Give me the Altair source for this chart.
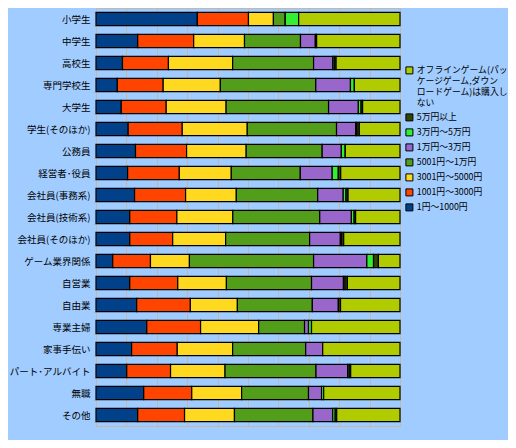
import altair as alt
import pandas as pd

categories = ["小学生", "中学生", "高校生", "専門学校生", "大学生", "学生(そのほか)",
              "公務員", "経営者･役員", "会社員(事務系)", "会社員(技術系)", "会社員(そのほか)",
              "ゲーム業界関係", "自営業", "自由業", "専業主婦", "家事手伝い",
              "パート･アルバイト", "無職", "その他"]

series = ["1円～1000円", "1001円～3000円", "3001円～5000円", "5001円～1万円",
          "1万円～3万円", "3万円～5万円", "5万円以上",
          "オフラインゲーム(パッケージゲーム,ダウンロードゲーム)は購入しない"]

colors = ["#00418A", "#FF4400", "#FFD820", "#529E1A", "#9966CC", "#33EE33", "#334400", "#B0CC00"]

v_1_1000 =    [33.3, 13.7, 8.7, 7.0, 8.3, 10.6, 13.0, 10.4, 12.7, 11.1, 11.1, 5.5, 11.1, 13.4, 16.7, 11.7, 10.1, 15.7, 13.7]
v_1001_3000 = [16.8, 18.4, 15.1, 15.1, 14.8, 17.8, 16.8, 17.0, 16.8, 15.5, 14.1, 12.4, 15.8, 17.7, 17.7, 15.0, 14.4, 15.8, 15.4]
v_3001_5000 = [8.2, 16.7, 21.1, 18.8, 19.7, 21.4, 19.6, 17.1, 16.7, 18.4, 17.4, 12.8, 16.0, 15.5, 19.1, 18.2, 17.9, 16.4, 16.4]
v_5001_1man = [3.9, 18.4, 26.6, 31.4, 33.7, 29.4, 25.0, 22.7, 26.8, 28.6, 27.6, 40.8, 28.0, 24.7, 15.1, 24.0, 29.9, 22.0, 25.8]
v_1_3man =    [0.0, 4.9, 6.3, 11.4, 9.8, 6.3, 6.3, 10.5, 8.4, 10.4, 10.1, 17.5, 10.5, 8.6, 1.3, 5.6, 10.4, 4.3, 6.5]
v_3_5man =    [4.4, 0.0, 0.5, 1.3, 0.9, 0.4, 1.3, 2.0, 0.9, 0.9, 0.4, 2.2, 0.5, 0.0, 1.0, 0.0, 0.5, 0.7, 0.8]
v_5man_up =   [0.0, 0.4, 0.6, 0.0, 0.5, 0.8, 0.0, 0.8, 0.7, 0.5, 0.7, 1.6, 0.8, 0.7, 0.0, 0.0, 0.5, 0.0, 0.5]
v_offline =   [33.3, 27.4, 21.0, 15.0, 12.3, 13.4, 18.0, 19.5, 17.1, 14.6, 18.5, 7.1, 17.3, 19.6, 29.1, 25.4, 16.2, 25.1, 20.8]

all_values = [v_1_1000, v_1001_3000, v_3001_5000, v_5001_1man, v_1_3man, v_3_5man, v_5man_up, v_offline]

rows = []
for si, (s, vals) in enumerate(zip(series, all_values)):
    for c, v in zip(categories, vals):
        rows.append({"category": c, "series": s, "value": v, "order": si})
df = pd.DataFrame(rows)

offline_lines = ["オフラインゲーム(パッ", "ケージゲーム,ダウン", "ロードゲーム)は購入し", "ない"]
label_expr = ("datum.label == '" + series[-1] + "' ? " +
              "['" + "','".join(offline_lines) + "'] : datum.label")

font = "Noto Sans CJK JP"
grid_color = "#C4B8AC"

chart = alt.Chart(df).mark_bar(stroke="#000000", strokeWidth=1.2).encode(
    y=alt.Y("category:N", sort=categories, title=None,
            scale=alt.Scale(paddingInner=0.4, paddingOuter=0.2),
            axis=alt.Axis(labelFont=font, labelFontSize=9.5, labelColor="#000000",
                          domainColor=grid_color, tickColor=grid_color, tickSize=3,
                          tickBand="extent", labelPadding=3, grid=False, labelLimit=100)),
    x=alt.X("value:Q", stack="normalize", title=None,
            scale=alt.Scale(domain=[0, 1], nice=False),
            axis=alt.Axis(values=[i / 10 for i in range(11)], labels=False, ticks=False,
                          domain=False, grid=True, gridColor=grid_color, gridOpacity=1)),
    color=alt.Color("series:N",
                    scale=alt.Scale(domain=series[::-1], range=colors[::-1]),
                    legend=alt.Legend(title=None, orient="none", legendX=309, legendY=58,
                                      symbolType="square", symbolSize=49,
                                      symbolStrokeColor="#000000", symbolStrokeWidth=1,
                                      labelFont=font, labelFontSize=8.8, labelColor="#000000",
                                      labelExpr=label_expr, labelLimit=200,
                                      rowPadding=3, labelOffset=3, padding=0)),
    order=alt.Order("order:Q", sort="ascending"),
).properties(
    width=304, height=418,
    background="#A0CCFF",
    padding={"left": 88, "top": 0, "right": 108, "bottom": 14},
    autosize=alt.AutoSizeParams(type="none"),
).configure_view(
    stroke=grid_color, strokeWidth=1
)

chart.save("out.html", embed_options={"renderer": "svg", "actions": False})
